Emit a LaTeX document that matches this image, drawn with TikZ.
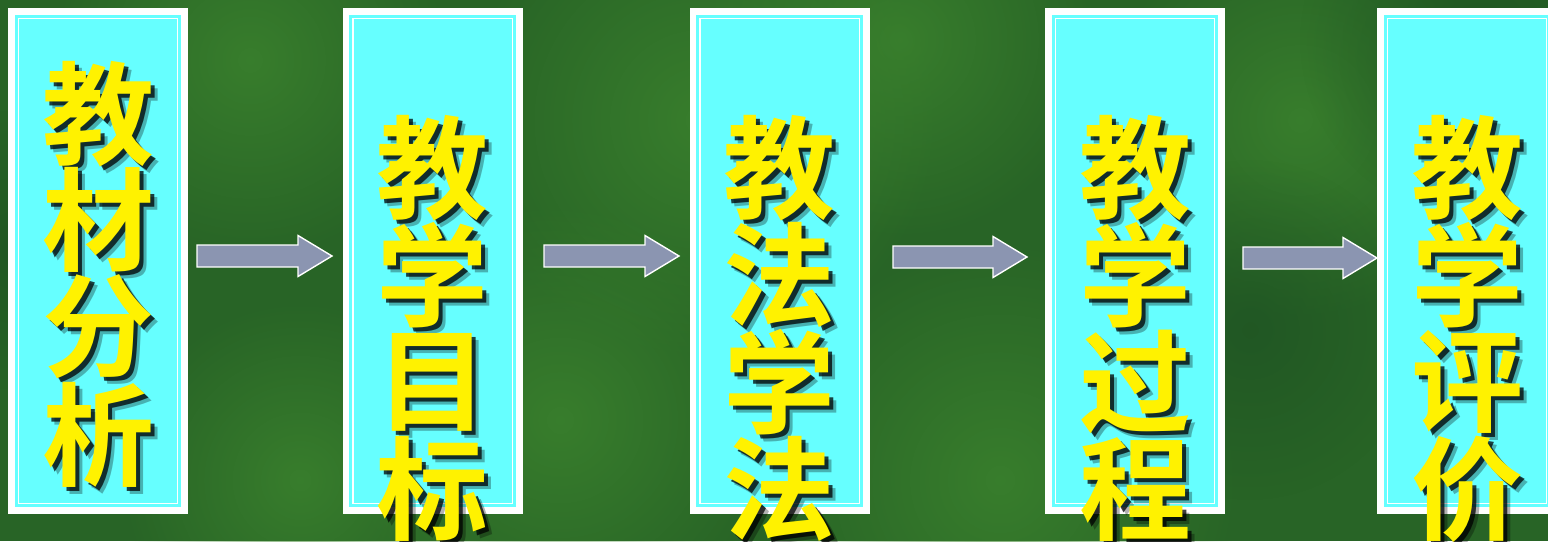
\documentclass[tikz,border=0pt]{standalone}
\usepackage{fontspec}
\newfontfamily\cjk{Noto Sans CJK SC}[BoldFont={Noto Sans CJK SC Bold}]
\usetikzlibrary{calc,fadings}
\definecolor{bggreen}{RGB}{40,100,38}
\definecolor{bglight}{RGB}{60,132,46}
\definecolor{bgdark}{RGB}{30,82,35}
\definecolor{cyanc}{RGB}{102,255,255}
\definecolor{arrowc}{RGB}{139,149,177}
\tikzfading[name=glow, inner color=transparent!0, outer color=transparent!100]
\begin{document}
\begin{tikzpicture}[x=1pt,y=-1pt,
  boxo/.style={fill=white, minimum width=180pt, minimum height=506pt, inner sep=0pt},
  ch/.style={font=\cjk\bfseries\fontsize{112}{112}\selectfont, text=yellow, inner sep=0pt},
  chs/.style={font=\cjk\bfseries\fontsize{112}{112}\selectfont, text=black, inner sep=0pt},
  blockarrow/.style={fill=arrowc, draw=white, line width=1.4pt, line join=miter}]
\useasboundingbox (0,0) rectangle (1548,541);
\clip (0,0) rectangle (1548,541);
% background
\fill[bggreen] (0,0) rectangle (1548,541);
\foreach \cx/\cy/\r in {250/60/200, 700/120/240, 900/40/200, 560/420/220, 1000/480/240, 1300/120/200, 300/480/180} {
  \fill[bglight, opacity=0.8, path fading=glow] (\cx,\cy) circle[radius=\r];
}
\foreach \cx/\cy/\r in {1480/40/180, 20/250/140, 1250/330/170} {
  \fill[bgdark, opacity=0.7, path fading=glow] (\cx,\cy) circle[radius=\r];
}
% boxes
\foreach \i/\x in {1/98,2/432.5,3/779.5,4/1135,5/1467} {
  \node[boxo] (b\i) at (\x,261) {};
  \fill[cyanc] ($(b\i.north west)+(7,7)$) rectangle ($(b\i.south east)+(-7,-7)$);
  \draw[white, line width=1.2pt] ($(b\i.north west)+(10.6,10.6)$) rectangle ($(b\i.south east)+(-10.6,-10.6)$);
}
% arrows
\foreach \i/\sx/\ex/\y in {1/197/332/256, 2/544/679/256, 3/893/1027/257, 4/1243/1377/258} {
  \coordinate (s\i) at (\sx,\y);
  \coordinate (e\i) at (\ex,\y);
  \draw[blockarrow] ($(s\i)+(0,-11)$) -- ($(e\i)+(-34,-11)$) -- ($(e\i)+(-34,-20.5)$) -- (e\i)
    -- ($(e\i)+(-34,20.5)$) -- ($(e\i)+(-34,11)$) -- ($(s\i)+(0,11)$) -- cycle;
}
% texts
\foreach \i/\x/\t/\ya/\yb/\yc/\yd in {
  1/98/{教,材,分,析}/114/220/327/435,
  2/432.5/{教,学,目,标}/168/275/382/489,
  3/779.5/{教,法,学,法}/168/275/382/489,
  4/1135/{教,学,过,程}/168/275/382/489,
  5/1467/{教,学,评,价}/168/275/382/489} {
  \foreach \c [count=\k] in \t {
    \pgfmathsetmacro{\yy}{{\ya,\yb,\yc,\yd}[\k-1]}
    \node[chs, opacity=0.3] (sh\i-\k) at (\x+7,\yy+7) {\c};
    \node[chs, opacity=0.75] (sk\i-\k) at (\x+4,\yy+4) {\c};
    \node[ch] (t\i-\k) at (\x,\yy) {\c};
  }
}
\end{tikzpicture}
\end{document}
